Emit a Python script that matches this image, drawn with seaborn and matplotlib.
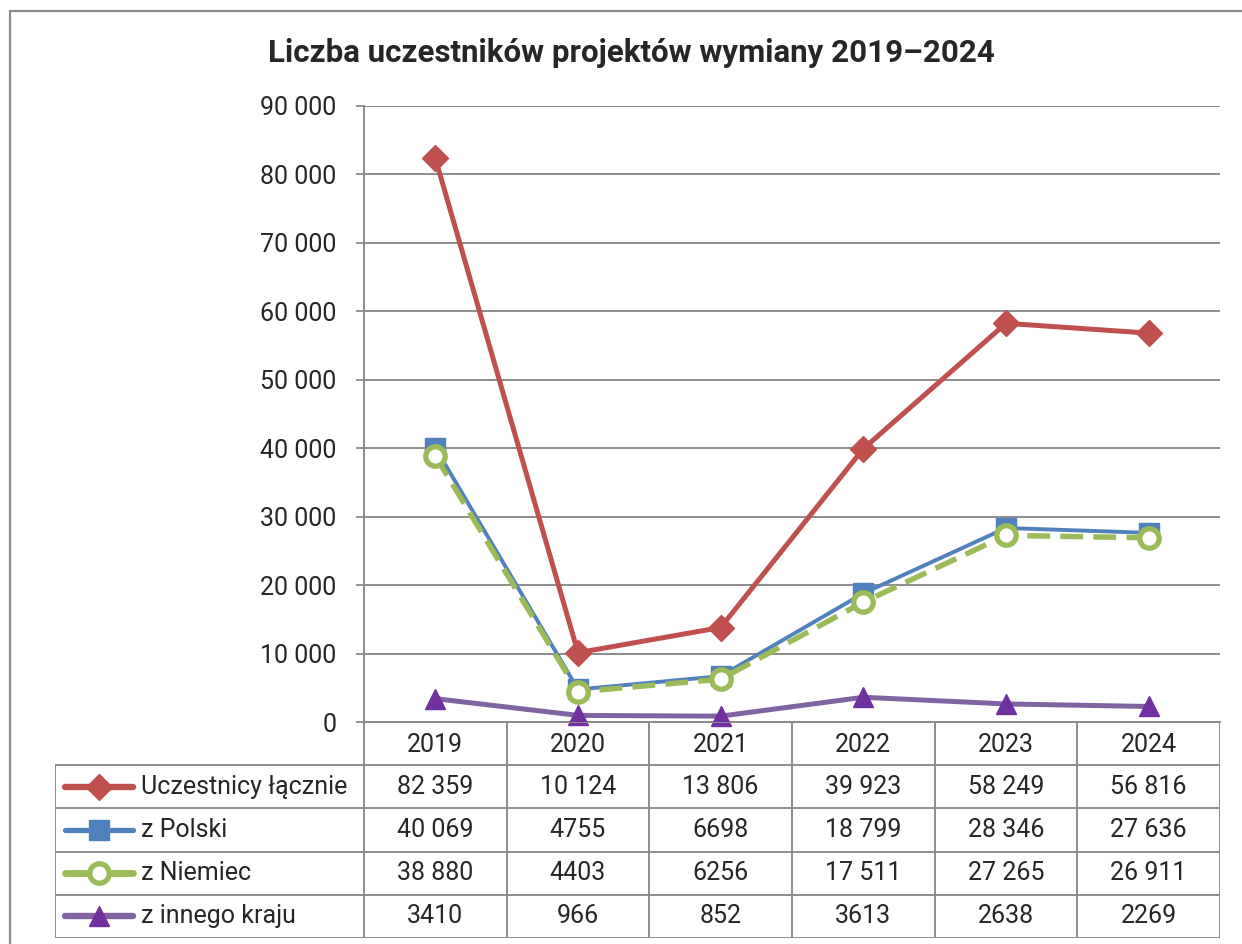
#!/usr/bin/env python3
"""Liczba uczestnikow projektow wymiany 2019-2024 - line chart with data table."""

import pandas as pd
import matplotlib
matplotlib.use("Agg")
import matplotlib.pyplot as plt
import seaborn as sns
from matplotlib.lines import Line2D

# Data
YEARS = ["2019", "2020", "2021", "2022", "2023", "2024"]
SERIES_NAMES = ["Uczestnicy łącznie", "z Polski", "z Niemiec", "z innego kraju"]
TOTAL = [82359, 10124, 13806, 39923, 58249, 56816]
POLAND = [40069, 4755, 6698, 18799, 28346, 27636]
GERMANY = [38880, 4403, 6256, 17511, 27265, 26911]
OTHER = [3410, 966, 852, 3613, 2638, 2269]
Y_TICKS = [0, 10000, 20000, 30000, 40000, 50000, 60000, 70000, 80000, 90000]
TITLE = "Liczba uczestników projektów wymiany 2019–2024"

# Styles per series
STYLES = {
    "Uczestnicy łącznie": dict(color="#C0504D", marker="D", markersize=13, lw=3.6,
                               ls="-", mfc="#C0504D", mec="#C0504D", mew=1),
    "z Polski": dict(color="#4F81BD", marker="s", markersize=15, lw=2.8,
                     ls="-", mfc="#4F81BD", mec="#4F81BD", mew=1),
    "z Niemiec": dict(color="#9BBB59", marker="o", markersize=14, lw=3.9,
                      ls=(0, (4.2, 1.9)), mfc="white", mec="#9BBB59", mew=3.8),
    "z innego kraju": dict(color="#8064A2", marker="^", markersize=14, lw=3.6,
                           ls="-", mfc="#7030A0", mec="#7030A0", mew=1),
}

GRID = "#8c8c8c"
W, H = 1242, 944
FS = 18


def fmt(v):
    """Polish thousands format: 5 digits or more get a space."""
    return f"{v:,}".replace(",", " ") if v >= 10000 else str(v)


df = pd.DataFrame({"Rok": YEARS, "x": range(len(YEARS)),
                   SERIES_NAMES[0]: TOTAL, SERIES_NAMES[1]: POLAND,
                   SERIES_NAMES[2]: GERMANY, SERIES_NAMES[3]: OTHER})
long_df = df.melt(id_vars=["Rok", "x"], var_name="Seria", value_name="Liczba")

sns.set_theme(style="white")
plt.rcParams["font.family"] = ["Roboto", "DejaVu Sans"]

fig = plt.figure(figsize=(W / 100, H / 100), dpi=100)

# plot area (pixel box 364..1220 x 106..722)
ax_l, ax_r, ax_t, ax_b = 364, 1220, 106, 722
ax = fig.add_axes([ax_l / W, 1 - ax_b / H, (ax_r - ax_l) / W, (ax_b - ax_t) / H])

for i, name in enumerate(SERIES_NAMES):
    st = STYLES[name]
    sub = long_df[long_df["Seria"] == name]
    sns.lineplot(data=sub, x="x", y="Liczba", ax=ax, color=st["color"],
                 linewidth=st["lw"], linestyle=st["ls"], marker=st["marker"],
                 markersize=st["markersize"], markerfacecolor=st["mfc"],
                 markeredgecolor=st["mec"], markeredgewidth=st["mew"],
                 clip_on=False, zorder=5 + i, legend=False)

ax.set_xlim(-0.5, len(YEARS) - 0.5)
ax.set_ylim(0, 90000)
ax.set_yticks(Y_TICKS)
ax.set_yticklabels([fmt(v) if v else "0" for v in Y_TICKS], fontsize=FS)
ax.tick_params(axis="y", length=6, width=1.3, color=GRID, pad=14, left=True)
ax.set_xticks([])
ax.set_xlabel("")
ax.set_ylabel("")
ax.yaxis.grid(True, color=GRID, linewidth=1.4)
ax.set_axisbelow(True)
for side in ["top", "right"]:
    ax.spines[side].set_visible(False)
for side in ["left", "bottom"]:
    ax.spines[side].set_color(GRID)
    ax.spines[side].set_linewidth(1.4)

# data table below the plot, sharing x scale with the plot
tb_l, tb_b = 55, 938
col_w = (ax_r - ax_l) / len(YEARS)
label_w = (ax_l - tb_l) / col_w
tax = fig.add_axes([tb_l / W, 1 - tb_b / H, (ax_r - tb_l) / W, (tb_b - ax_b) / H])
tax.set_xlim(-0.5 - label_w, len(YEARS) - 0.5)
n_rows = len(SERIES_NAMES) + 1
tax.set_ylim(n_rows, 0)
tax.axis("off")

x0 = -0.5 - label_w
x1 = len(YEARS) - 0.5
line_kw = dict(color=GRID, linewidth=1.4, solid_capstyle="butt")
# horizontal lines
tax.plot([-0.5, x1], [0, 0], **line_kw)
for r in range(1, n_rows + 1):
    tax.plot([x0, x1], [r, r], **line_kw)
# vertical lines
tax.plot([x0, x0], [1, n_rows], **line_kw)
for c in range(len(YEARS) + 1):
    tax.plot([c - 0.5, c - 0.5], [0, n_rows], **line_kw)

for c, yr in enumerate(YEARS):
    tax.text(c, 0.53, yr, ha="center", va="center", fontsize=FS)

for r, name in enumerate(SERIES_NAMES, start=1):
    st = STYLES[name]
    vals = df[name].tolist()
    for c, v in enumerate(vals):
        tax.text(c, r + 0.5, fmt(v), ha="center", va="center", fontsize=FS)
    # legend key
    sx0, sx1 = x0 + 0.07, x0 + 0.547
    tax.add_line(Line2D([sx0, sx1], [r + 0.5, r + 0.5], color=st["color"],
                        linewidth=st["lw"] + 1, solid_capstyle="round"))
    tax.add_line(Line2D([(sx0 + sx1) / 2], [r + 0.5], marker=st["marker"],
                        markersize=st["markersize"], markerfacecolor=st["mfc"],
                        markeredgecolor=st["mec"], markeredgewidth=st["mew"],
                        linestyle="none"))
    tax.text(x0 + 0.6, r + 0.5, name, ha="left", va="center", fontsize=FS)

# title
fig.text(631 / W, 1 - 53 / H, TITLE, ha="center", va="center",
         fontsize=22.5, fontweight="bold")

# outer chart frame (cut off at right and bottom)
fig.add_artist(Line2D([10 / W, 1], [1 - 11 / H, 1 - 11 / H], color="#8a8a8a",
                      linewidth=1.6, transform=fig.transFigure))
fig.add_artist(Line2D([10 / W, 10 / W], [0, 1 - 11 / H], color="#8a8a8a",
                      linewidth=1.6, transform=fig.transFigure))

fig.savefig("out.png", dpi=100)
